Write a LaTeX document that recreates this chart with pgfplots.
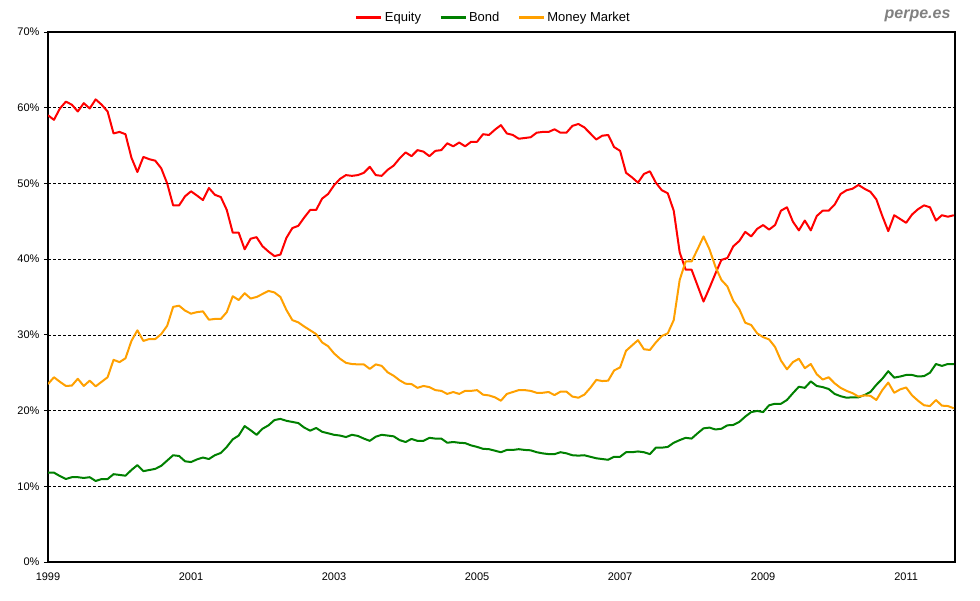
\documentclass[border=0pt]{standalone}
\usepackage{pgfplots}
\usepackage{pgfplotstable}
\pgfplotsset{compat=1.18}
\usepackage{fontspec}
\setmainfont{Liberation Sans}
\definecolor{eqc}{RGB}{255,0,0}
\definecolor{bdc}{RGB}{0,128,0}
\definecolor{mmc}{RGB}{255,160,0}
\pgfplotstableread{
i E B M
0 59.0 11.8 23.5
1 58.4 11.8 24.4
2 59.9 11.35 23.8
3 60.8 10.96 23.25
4 60.4 11.2 23.3
5 59.5 11.2 24.2
6 60.6 11.1 23.25
7 59.9 11.2 23.95
8 61.1 10.7 23.2
9 60.4 10.96 23.8
10 59.5 10.96 24.4
11 56.6 11.6 26.7
12 56.8 11.5 26.4
13 56.5 11.4 26.9
14 53.4 12.15 29.2
15 51.5 12.8 30.6
16 53.5 12.0 29.2
17 53.2 12.15 29.45
18 53.0 12.3 29.45
19 52.0 12.7 30.1
20 50.0 13.4 31.2
21 47.1 14.1 33.7
22 47.1 14.0 33.85
23 48.3 13.3 33.2
24 48.96 13.2 32.8
25 48.4 13.55 33.0
26 47.8 13.8 33.1
27 49.4 13.6 32.0
28 48.5 14.1 32.1
29 48.2 14.4 32.1
30 46.5 15.2 33.0
31 43.5 16.2 35.1
32 43.5 16.7 34.6
33 41.3 17.95 35.5
34 42.7 17.4 34.8
35 42.9 16.8 35.0
36 41.7 17.6 35.4
37 41.0 18.05 35.8
38 40.4 18.75 35.6
39 40.6 18.9 35.0
40 42.8 18.65 33.3
41 44.1 18.5 31.95
42 44.4 18.35 31.65
43 45.5 17.75 31.1
44 46.5 17.35 30.6
45 46.5 17.7 30.1
46 48.0 17.2 29.0
47 48.6 17.0 28.5
48 49.75 16.8 27.55
49 50.6 16.7 26.85
50 51.1 16.5 26.3
51 51.0 16.8 26.15
52 51.1 16.65 26.1
53 51.4 16.3 26.1
54 52.2 16.0 25.5
55 51.1 16.55 26.1
56 51.0 16.8 25.9
57 51.8 16.7 25.05
58 52.35 16.6 24.6
59 53.3 16.1 24.0
60 54.1 15.85 23.55
61 53.6 16.25 23.5
62 54.4 16.0 23.0
63 54.2 16.0 23.25
64 53.6 16.4 23.1
65 54.3 16.3 22.7
66 54.4 16.3 22.6
67 55.3 15.75 22.2
68 54.9 15.85 22.45
69 55.4 15.75 22.2
70 54.9 15.7 22.6
71 55.5 15.4 22.6
72 55.5 15.2 22.7
73 56.5 14.95 22.1
74 56.4 14.9 22.0
75 57.1 14.7 21.75
76 57.7 14.5 21.3
77 56.6 14.8 22.2
78 56.4 14.8 22.45
79 55.9 14.9 22.7
80 56.0 14.8 22.7
81 56.1 14.75 22.6
82 56.7 14.5 22.35
83 56.8 14.35 22.35
84 56.8 14.25 22.45
85 57.15 14.25 22.05
86 56.7 14.5 22.5
87 56.7 14.35 22.5
88 57.6 14.1 21.85
89 57.85 14.05 21.7
90 57.4 14.1 22.1
91 56.6 13.9 23.0
92 55.8 13.7 24.05
93 56.3 13.6 23.9
94 56.4 13.5 23.95
95 54.8 13.9 25.3
96 54.3 13.9 25.7
97 51.4 14.5 27.9
98 50.8 14.5 28.6
99 50.1 14.6 29.3
100 51.25 14.5 28.1
101 51.6 14.25 28.0
102 50.1 15.1 29.0
103 49.1 15.1 29.85
104 48.7 15.2 30.2
105 46.4 15.75 31.95
106 40.9 16.1 37.25
107 38.6 16.4 39.7
108 38.6 16.3 39.7
109 36.5 17.0 41.3
110 34.4 17.65 43.0
111 36.2 17.75 41.3
112 38.1 17.5 39.0
113 39.9 17.6 37.25
114 40.15 18.05 36.4
115 41.7 18.1 34.5
116 42.4 18.5 33.4
117 43.6 19.2 31.6
118 43.0 19.8 31.3
119 44.0 19.95 30.2
120 44.5 19.8 29.7
121 43.9 20.7 29.4
122 44.5 20.9 28.4
123 46.4 20.9 26.6
124 46.85 21.4 25.45
125 44.95 22.3 26.4
126 43.8 23.15 26.85
127 45.1 23.0 25.6
128 43.8 23.85 26.15
129 45.7 23.25 24.8
130 46.4 23.1 24.1
131 46.4 22.85 24.4
132 47.2 22.2 23.6
133 48.6 21.9 23.0
134 49.1 21.7 22.6
135 49.3 21.75 22.3
136 49.8 21.75 21.85
137 49.3 22.05 22.0
138 48.9 22.45 21.95
139 47.9 23.4 21.4
140 45.7 24.2 22.7
141 43.7 25.2 23.7
142 45.8 24.35 22.35
143 45.3 24.5 22.8
144 44.8 24.7 23.05
145 45.9 24.7 22.0
146 46.6 24.5 21.3
147 47.1 24.55 20.7
148 46.85 25.0 20.6
149 45.1 26.15 21.4
150 45.8 25.9 20.65
151 45.6 26.15 20.6
152 45.8 26.15 20.3
}\datatable
\begin{document}
\begin{tikzpicture}[x=1pt,y=1pt]
\path[use as bounding box] (0,0) rectangle (980,600);
\begin{axis}[
  at={(48pt,38pt)}, anchor=south west,
  width=907pt, height=530pt, scale only axis,
  xmin=0, xmax=152.2, ymin=0, ymax=70,
  xtick={0,24,48,72,96,120,144},
  xticklabels={1999,2001,2003,2005,2007,2009,2011},
  ytick={0,10,20,30,40,50,60,70},
  yticklabels={0\%,10\%,20\%,30\%,40\%,50\%,60\%,70\%},
  ymajorgrids,
  major grid style={black, line width=0.6pt, dash pattern=on 3pt off 2pt},
  axis line style={black, line width=1.2pt},
  ytick pos=left, xtick pos=bottom,
  tick align=outside,
  major tick length=4pt,
  xtick style={draw=none},
  ytick style={black, line width=0.8pt},
  tick label style={font=\fontsize{11}{13}\selectfont},
  yticklabel style={xshift=-1pt},
  xticklabel style={yshift=-3pt},
  legend columns=3,
  legend style={draw=none, fill=none, at={(0.491,1)}, anchor=south, yshift=5pt,
    font=\fontsize{13}{15}\selectfont,
    /tikz/every even column/.append style={column sep=16pt}},
  legend image code/.code={\draw[#1, line width=3pt] (0pt,0pt) -- (25pt,0pt);},
  every axis plot/.append style={line width=2pt, line join=round},
]
\addplot[eqc, mark=none] table[x=i, y=E] {\datatable};
\addlegendentry{Equity}
\addplot[bdc, mark=none] table[x=i, y=B] {\datatable};
\addlegendentry{Bond}
\addplot[mmc, mark=none] table[x=i, y=M] {\datatable};
\addlegendentry{Money Market}
\end{axis}
\node[anchor=east, text=gray, font=\fontsize{16}{18}\selectfont\bfseries\itshape] at (954,584) {perpe.es};
\end{tikzpicture}
\end{document}
